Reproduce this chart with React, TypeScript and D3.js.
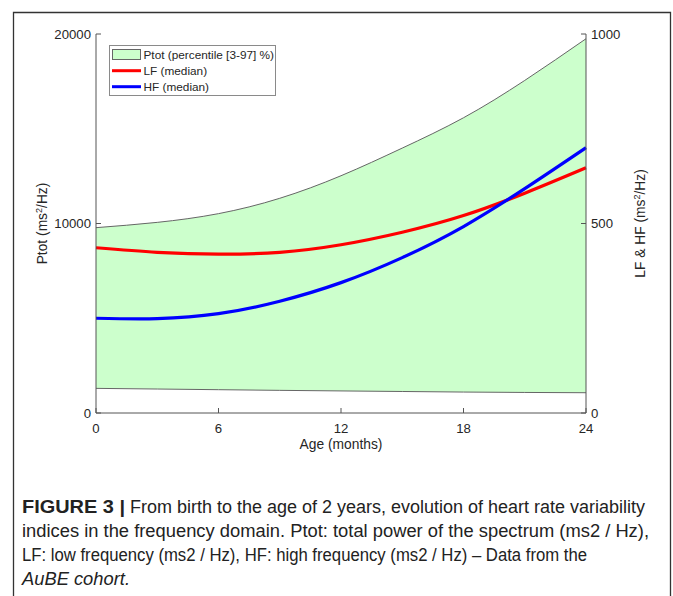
import React from "react";
import * as d3 from "d3";

const months = [0, 3, 6, 9, 12, 15, 18, 21, 24];
const ptotUpper = [9780, 10060, 10520, 11330, 12520, 13980, 15580, 17550, 19750];
const ptotLower = [1300, 1265, 1230, 1195, 1165, 1135, 1105, 1085, 1070];
const lfMedian = [436, 424, 419, 424, 444, 477, 521, 580, 647];
const hfMedian = [250, 249, 262, 295, 344, 410, 492, 592, 700];
const xTicks = [0, 6, 12, 18, 24];
const leftTicks = [0, 10000, 20000];
const rightTicks = [0, 500, 1000];

const W = 673;
const H = 596;
const L = 96, R = 586, T = 34, B = 413;
const FONT = "'Liberation Sans', Arial, Helvetica, sans-serif";
const AX = "#555";
const TXT = "#262626";

export default function App() {
  const x = d3.scaleLinear().domain([0, 24]).range([L, R]);
  const yL = d3.scaleLinear().domain([0, 20000]).range([B, T]);
  const yR = d3.scaleLinear().domain([0, 1000]).range([B, T]);
  const curve = d3.curveNatural;

  const area = d3
    .area<number>()
    .x((_, i) => x(months[i]))
    .y0((_, i) => yL(ptotLower[i]))
    .y1((d) => yL(d))
    .curve(curve);
  const lineL = d3.line<number>().x((_, i) => x(months[i])).y((d) => yL(d)).curve(curve);
  const lineR = d3.line<number>().x((_, i) => x(months[i])).y((d) => yR(d)).curve(curve);

  const tick = 5;

  return (
    <svg
      width={W}
      height={H}
      viewBox={`0 0 ${W} ${H}`}
      style={{ position: "absolute", left: 0, top: 0, background: "#fff" }}
      fontFamily={FONT}
    >
      <rect x={0} y={0} width={W} height={H} fill="#fff" />
      {/* outer frame */}
      <path d={`M13.5,${H + 2} V12.5 H670.5 V${H + 2}`} fill="none" stroke="#333" strokeWidth={1.3} />

      {/* band */}
      <path d={area(ptotUpper) || ""} fill="#ccffcc" stroke="none" />
      <path d={lineL(ptotUpper) || ""} fill="none" stroke="#666" strokeWidth={1} />
      <path d={lineL(ptotLower) || ""} fill="none" stroke="#666" strokeWidth={1} />

      {/* median lines */}
      <path d={lineR(lfMedian) || ""} fill="none" stroke="#ff0000" strokeWidth={3.2} />
      <path d={lineR(hfMedian) || ""} fill="none" stroke="#0000ff" strokeWidth={3.2} />

      {/* axes */}
      <g stroke={AX} strokeWidth={1} fill="none">
        <line x1={L} x2={L} y1={T} y2={B} />
        <line x1={R} x2={R} y1={T} y2={B} />
        <line x1={L} x2={R} y1={B} y2={B} />
        {leftTicks.map((t) => (
          <line key={"l" + t} x1={L} x2={L + tick} y1={yL(t)} y2={yL(t)} />
        ))}
        {rightTicks.map((t) => (
          <line key={"r" + t} x1={R} x2={R - tick} y1={yR(t)} y2={yR(t)} />
        ))}
        {xTicks.map((t) => (
          <line key={"x" + t} x1={x(t)} x2={x(t)} y1={B} y2={B - tick} />
        ))}
      </g>
      <g fontSize={13.2} fill={TXT}>
        {leftTicks.map((t) => (
          <text key={"lt" + t} x={L - 5} y={yL(t)} dy="0.35em" textAnchor="end">
            {t}
          </text>
        ))}
        {rightTicks.map((t) => (
          <text key={"rt" + t} x={R + 5} y={yR(t)} dy="0.35em" textAnchor="start">
            {t}
          </text>
        ))}
        {xTicks.map((t) => (
          <text key={"xt" + t} x={x(t)} y={B + 15} dy="0.35em" textAnchor="middle">
            {t}
          </text>
        ))}
      </g>

      {/* axis labels */}
      <g fontSize={13.8} fill={TXT}>
        <text x={(L + R) / 2} y={444} dy="0.35em" textAnchor="middle">
          Age (months)
        </text>
        <text transform={`translate(47,${(T + B) / 2}) rotate(-90)`} textAnchor="middle">
          Ptot (ms<tspan fontSize={9} dy={-5}>2</tspan>
          <tspan dy={5}>/Hz)</tspan>
        </text>
        <text transform={`translate(645,${(T + B) / 2}) rotate(-90)`} textAnchor="middle">
          LF &amp; HF (ms<tspan fontSize={9} dy={-5}>2</tspan>
          <tspan dy={5}>/Hz)</tspan>
        </text>
      </g>

      {/* legend */}
      <g>
        <rect x={109.5} y={45.5} width={166} height={50} fill="#fff" stroke="#8a8a8a" strokeWidth={1} />
        <rect x={112.5} y={49.5} width={28} height={10} fill="#ccffcc" stroke="#666" strokeWidth={1} />
        <line x1={112} x2={141} y1={70.7} y2={70.7} stroke="#ff0000" strokeWidth={3} />
        <line x1={112} x2={141} y1={86.7} y2={86.7} stroke="#0000ff" strokeWidth={3} />
        <g fontSize={11.8} fill={TXT}>
          <text x={143.5} y={58.8}>Ptot (percentile [3-97] %)</text>
          <text x={143.5} y={74.8}>LF (median)</text>
          <text x={143.5} y={90.8}>HF (median)</text>
        </g>
      </g>

      {/* caption */}
      <g fontSize={17.5} fill="#222">
        <text x={22} y={513} fontWeight="bold" textLength={103} lengthAdjust="spacingAndGlyphs">
          FIGURE 3 |
        </text>
        <text x={130} y={513} textLength={515} lengthAdjust="spacingAndGlyphs">
          From birth to the age of 2 years, evolution of heart rate variability
        </text>
        <text x={22} y={537} textLength={627} lengthAdjust="spacingAndGlyphs">
          indices in the frequency domain. Ptot: total power of the spectrum (ms2 / Hz),
        </text>
        <text x={22} y={561} textLength={565} lengthAdjust="spacingAndGlyphs">
          LF: low frequency (ms2 / Hz), HF: high frequency (ms2 / Hz) – Data from the
        </text>
        <text x={22} y={585} fontStyle="italic" textLength={108} lengthAdjust="spacingAndGlyphs">
          AuBE cohort.
        </text>
      </g>
    </svg>
  );
}
